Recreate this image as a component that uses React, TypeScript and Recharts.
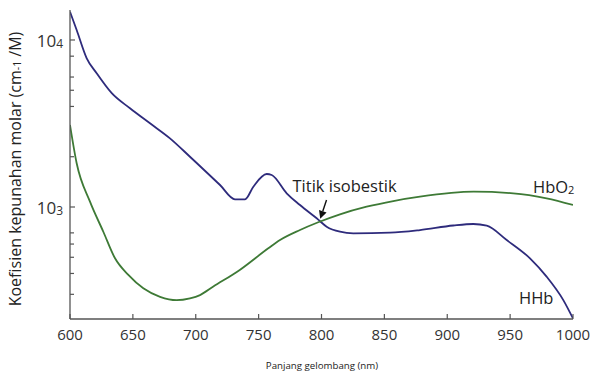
import React from "react";
import { LineChart, Line, XAxis, YAxis, ReferenceLine } from "recharts";

const wavelengthTicks = [600, 650, 700, 750, 800, 850, 900, 950, 1000];
const absorptionTicks = [300, 400, 500, 600, 700, 1000, 2000, 4000, 5000, 6000, 8000, 10000];

const hhbWavelength = [600, 605.3, 613.3, 621.2, 633.2, 647.7, 663.6, 679.5, 695.4, 719.3, 731.2, 739.2, 745.8, 756.4, 760.4, 772.3, 782.9, 797.4, 804.1, 814.7, 825.3, 854.5, 878.3, 904.8, 920.7, 931.4, 947.3, 965.8, 979, 992.3, 1000];
const hhbValues = [14770, 11480, 7770, 6320, 4800, 3900, 3170, 2576, 2000, 1354, 1112, 1112, 1323, 1576, 1555, 1208, 1028, 840, 762, 711, 696, 702, 728, 775, 791, 773, 634, 493, 383, 277, 215];

const hbo2Wavelength = [600, 605.3, 615.9, 626.5, 635.8, 646.4, 658.3, 671.6, 684.8, 695.4, 703.4, 714, 735, 757.7, 767, 782.9, 797.4, 814.7, 835.9, 857.1, 878.3, 921, 952.5, 979, 1000];
const hbo2Values = [3100, 1828, 1076, 711, 493, 392, 326, 290, 277, 284, 297, 334, 420, 566, 634, 728, 810, 904, 1004, 1086, 1153, 1235, 1208, 1127, 1028];

const hhbData = hhbWavelength.map((nm, i) => ({ nm, v: hhbValues[i] }));
const hbo2Data = hbo2Wavelength.map((nm, i) => ({ nm, v: hbo2Values[i] }));

const FONT = "'Open Sans', 'DejaVu Sans', sans-serif";
const AXIS = "#555";
const TEXT = "#333";
const BLUE = "#2e2b7c";
const GREEN = "#3e7a36";

const XTick = (props: any) => {
  const { x, y, payload } = props;
  return (
    <g>
      <line x1={x} x2={x} y1={y} y2={y - 5} stroke={AXIS} strokeWidth={1.2} />
      <text x={x} y={y + 21} textAnchor="middle" fontSize={15} fill={TEXT} fontFamily={FONT}>
        {payload.value}
      </text>
    </g>
  );
};

const YTick = (props: any) => {
  const { x, y, payload } = props;
  const v = payload.value;
  const major = v === 1000 || v === 10000;
  return (
    <g>
      <line x1={x} x2={x + (major ? 5 : 4)} y1={y} y2={y} stroke={AXIS} strokeWidth={1.2} />
      {major && (
        <text x={x - 7} y={y + 7} textAnchor="end" fontSize={17} fill={TEXT} fontFamily={FONT}>
          10
          <tspan fontSize={12} dy={1}>{v === 1000 ? "3" : "4"}</tspan>
        </text>
      )}
    </g>
  );
};

const ArrowShape = (props: any) => {
  const { x1, y1, x2, y2 } = props;
  const dx = x2 - x1;
  const dy = y2 - y1;
  const len = Math.sqrt(dx * dx + dy * dy) || 1;
  const ux = dx / len;
  const uy = dy / len;
  const hl = 8;
  const hw = 4;
  const bx = x2 - ux * hl;
  const by = y2 - uy * hl;
  return (
    <g>
      <line x1={x1} y1={y1} x2={bx} y2={by} stroke="#111" strokeWidth={1.4} />
      <polygon
        points={`${x2},${y2} ${bx - uy * hw},${by + ux * hw} ${bx + uy * hw},${by - ux * hw}`}
        fill="#111"
      />
      <text x={x1 - 34} y={y1 - 8} fontSize={16.5} fill="#222" fontFamily={FONT}>
        Titik isobestik
      </text>
    </g>
  );
};

export default function App() {
  return (
    <div style={{ position: "fixed", left: 0, top: 0, width: 594, height: 374, fontFamily: FONT, background: "#fff" }}>
      <LineChart width={594} height={374} data={hhbData} margin={{ top: 10, right: 21, bottom: 25, left: 30 }}>
        <XAxis
          dataKey="nm"
          type="number"
          domain={[600, 1000]}
          ticks={wavelengthTicks}
          interval={0}
          allowDataOverflow
          tickSize={0}
          tickMargin={0}
          tickLine={false}
          height={30}
          stroke={AXIS}
          strokeWidth={1.3}
          tick={<XTick />}
        />
        <YAxis
          type="number"
          scale="log"
          domain={[213.5, 15120]}
          ticks={absorptionTicks}
          interval={0}
          allowDataOverflow
          tickSize={0}
          tickMargin={0}
          tickLine={false}
          width={40}
          stroke={AXIS}
          strokeWidth={1.3}
          tick={<YTick />}
        />
        <Line
          data={hhbData}
          dataKey="v"
          type="monotone"
          stroke={BLUE}
          strokeWidth={1.8}
          dot={false}
          isAnimationActive={false}
        />
        <Line
          data={hbo2Data}
          dataKey="v"
          type="monotone"
          stroke={GREEN}
          strokeWidth={1.8}
          dot={false}
          isAnimationActive={false}
        />
        <ReferenceLine
          segment={[{ x: 804, y: 1100 }, { x: 799, y: 850 }]}
          ifOverflow="visible"
          shape={<ArrowShape />}
        />
      </LineChart>
      <svg
        width={594}
        height={374}
        style={{ position: "absolute", left: 0, top: 0, pointerEvents: "none", overflow: "visible" }}
      >
        <text
          transform="translate(21,169) rotate(-90)"
          textAnchor="middle"
          fontSize={16}
          fill="#222"
          fontFamily={FONT}
        >
          Koefisien kepunahan molar (cm
          <tspan fontSize={10.5}>-1</tspan>
          <tspan> /M)</tspan>
        </text>
        <text x={322} y={369} textAnchor="middle" fontSize={9.7} fill="#222" fontFamily={FONT}>
          Panjang gelombang (nm)
        </text>
        <text x={533} y={193} fontSize={16.5} fill="#222" fontFamily={FONT}>
          HbO
          <tspan fontSize={11} dy={1}>2</tspan>
        </text>
        <text x={519} y={304} fontSize={16.5} fill="#222" fontFamily={FONT}>
          HHb
        </text>
      </svg>
    </div>
  );
}
